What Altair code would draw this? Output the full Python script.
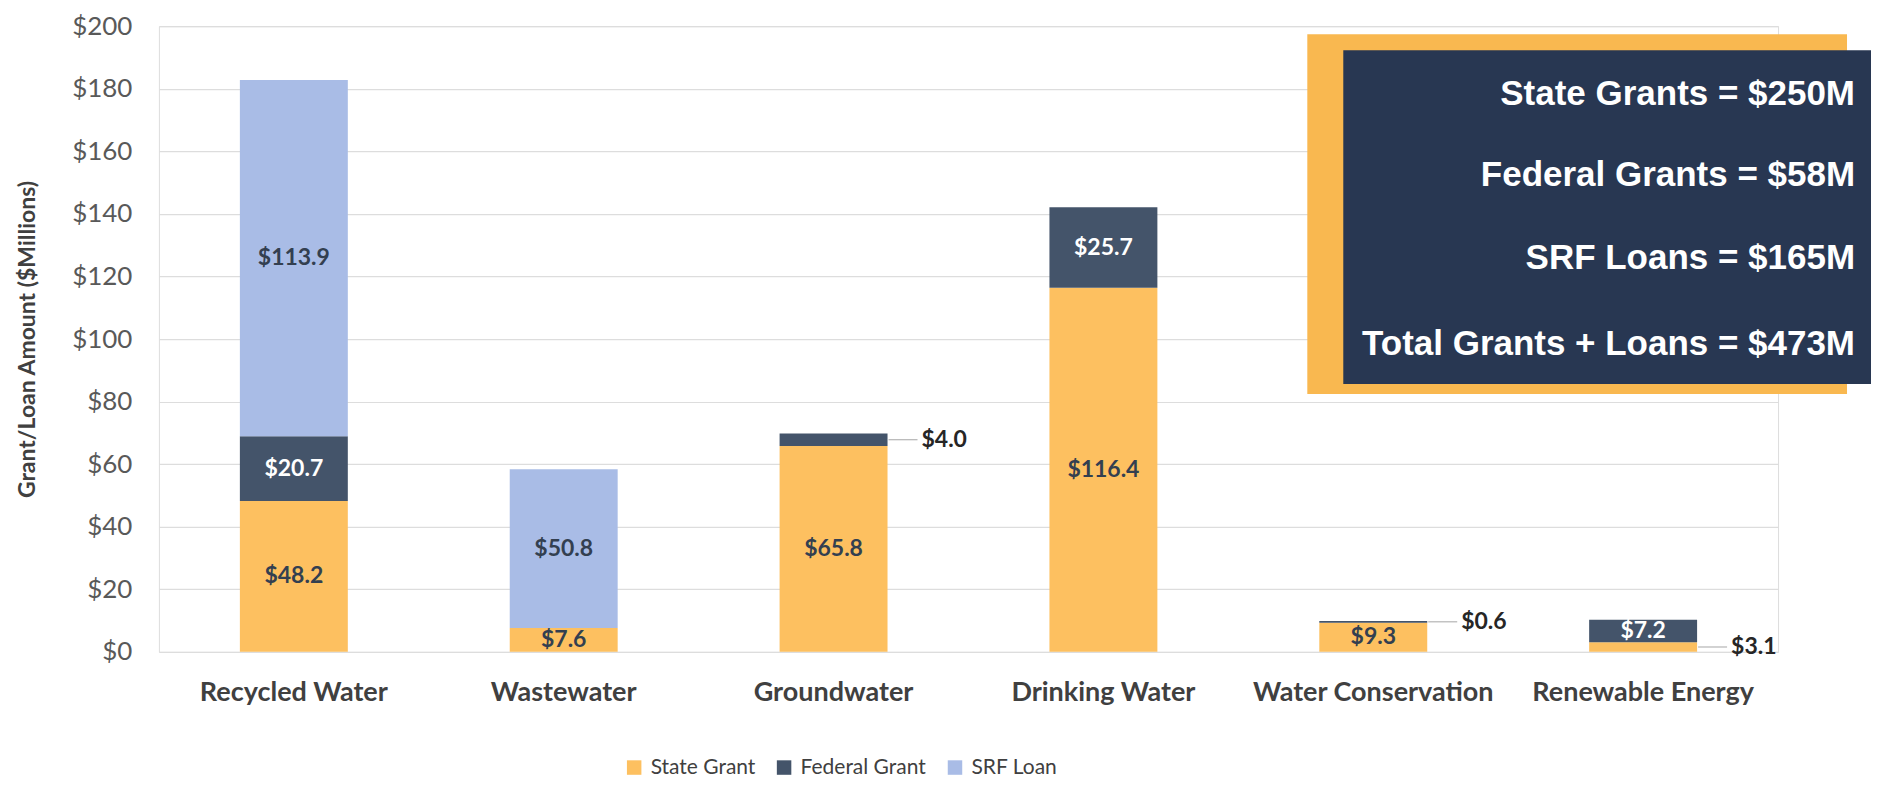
import altair as alt
import pandas as pd

categories = ["Recycled Water", "Wastewater", "Groundwater", "Drinking Water",
              "Water Conservation", "Renewable Energy"]
series_names = ["State Grant", "Federal Grant", "SRF Loan"]
state_grant = [48.2, 7.6, 65.8, 116.4, 9.3, 3.1]
federal_grant = [20.7, 0.0, 4.0, 25.7, 0.6, 7.2]
srf_loan = [113.9, 50.8, 0.0, 0.0, 0.0, 0.0]
series_colors = ["#FDC060", "#44546A", "#A9BCE6"]
# where each value label goes: inside the segment or outside with a leader line
state_place = ["in", "in", "in", "in", "in", "out"]
federal_place = ["in", "in", "out", "in", "out", "in"]
srf_place = ["in", "in", "in", "in", "in", "in"]
y_ticks = [0, 20, 40, 60, 80, 100, 120, 140, 160, 180, 200]
summary_lines = ["State Grants = $250M", "Federal Grants = $58M",
                 "SRF Loans = $165M", "Total Grants + Loans = $473M"]

rows = []
for order, (name, vals, places) in enumerate(zip(
        series_names, [state_grant, federal_grant, srf_loan],
        [state_place, federal_place, srf_place])):
    for cat, v, p in zip(categories, vals, places):
        if v > 0:
            rows.append({"category": cat, "series": name, "value": v,
                         "order": order, "place": p, "label": f"${v:.1f}"})
df = pd.DataFrame(rows)

FONT = "Lato"
xenc = alt.X("category:N", sort=categories,
             scale=alt.Scale(paddingInner=0.6, paddingOuter=0.3),
             axis=alt.Axis(title=None, labelAngle=0, labelFont=FONT,
                           labelFontWeight="bold", labelFontSize=27,
                           labelColor="#404040", labelPadding=28,
                           labelLimit=0, ticks=False, domain=False))

bars = alt.Chart(df).mark_bar().encode(
    x=xenc,
    y=alt.Y("value:Q", stack="zero",
            scale=alt.Scale(domain=[0, 200], nice=False),
            axis=alt.Axis(values=y_ticks, labelExpr="'$' + datum.value",
                          title="Grant/Loan Amount ($Millions)",
                          titleFont=FONT, titleFontWeight="bold",
                          titleFontSize=23, titleColor="#404040",
                          titlePadding=32, labelFont=FONT, labelFontSize=26,
                          labelColor="#595959", labelPadding=27,
                          grid=True, gridColor="#DDDDDD", gridWidth=1.2,
                          ticks=False, domain=False)),
    color=alt.Color("series:N",
                    scale=alt.Scale(domain=series_names, range=series_colors),
                    legend=alt.Legend(title=None, orient="none",
                                      direction="horizontal",
                                      legendX=465, legendY=731,
                                      symbolType="square", symbolSize=210,
                                      symbolStrokeWidth=0,
                                      labelFont=FONT, labelFontSize=21,
                                      labelColor="#404040",
                                      columnPadding=18, labelOffset=6)),
    order=alt.Order("order:Q", sort="ascending"),
)

stacked = alt.Chart(df).transform_stack(
    stack="value", groupby=["category"], as_=["y0", "y1"],
    sort=[alt.SortField("order", order="ascending")]
).transform_calculate(mid="(datum.y0 + datum.y1) / 2")

ypos = alt.Y("mid:Q")
xpos = alt.X("category:N", sort=categories)

inside_dark = stacked.transform_filter(
    "datum.place == 'in' && datum.series != 'Federal Grant'"
).mark_text(font=FONT, fontWeight="bold", fontSize=23, color="#333F50").encode(
    x=xpos, y=ypos, text="label:N")

inside_light = stacked.transform_filter(
    "datum.place == 'in' && datum.series == 'Federal Grant'"
).mark_text(font=FONT, fontWeight="bold", fontSize=23, color="#FFFFFF").encode(
    x=xpos, y=ypos, text="label:N")

outside = stacked.transform_filter("datum.place == 'out'").mark_text(
    font=FONT, fontWeight="bold", fontSize=23, color="#262626",
    align="left", dx=88).encode(x=xpos, y=ypos, text="label:N")

leaders = stacked.transform_filter("datum.place == 'out'").mark_rule(
    color="#A6A6A6", strokeWidth=1, xOffset=55, x2Offset=84).encode(
    x=xpos, x2=alt.X2("category:N"), y=ypos)

one = pd.DataFrame({"k": [0]})
box_back = alt.Chart(one).mark_rect(color="#F9B850").encode(
    x=alt.value(1149), x2=alt.value(1689), y=alt.value(8), y2=alt.value(368))
box_front = alt.Chart(one).mark_rect(color="#283752").encode(
    x=alt.value(1185), x2=alt.value(1713), y=alt.value(24), y2=alt.value(358))

line_y = [68, 149, 232, 318]
box_texts = [
    alt.Chart(one).mark_text(text=t, font="Liberation Sans", fontWeight="bold",
                             fontSize=35, color="#FFFFFF", align="right",
                             baseline="middle").encode(
        x=alt.value(1697), y=alt.value(yy))
    for t, yy in zip(summary_lines, line_y)
]

chart = alt.layer(bars, leaders, inside_dark, inside_light, outside,
                  box_back, box_front, *box_texts).properties(
    width=1620, height=626,
    autosize=alt.AutoSizeParams(type="none"),
    padding={"left": 151, "top": 18, "right": 95, "bottom": 128},
).configure_view(stroke=None).configure(background="#FFFFFF")

chart.save("out.html", embed_options={"renderer": "svg", "actions": False})
